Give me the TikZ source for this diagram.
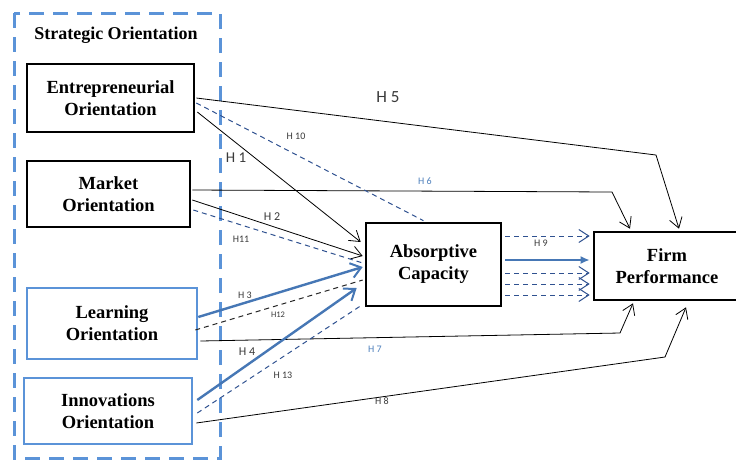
\documentclass[tikz,border=0pt]{standalone}
\usepackage{fontspec}
\setmainfont{Liberation Serif}
\newfontfamily\labfont{Carlito}
\usetikzlibrary{arrows.meta}
\definecolor{framblue}{HTML}{5B93D8}
\definecolor{arrblue}{HTML}{4677B5}
\definecolor{dashblue}{HTML}{2F5190}
\definecolor{labblue}{HTML}{4F81BD}
\definecolor{labdark}{HTML}{3A3A3A}
\tikzset{
  blackbox/.style={draw=black, line width=2.6pt, inner sep=0pt, align=center,
    font=\fontsize{18.5}{22}\selectfont\bfseries},
  bluebox/.style={blackbox, draw=framblue},
  thinline/.style={draw=black, line width=0.8pt},
  thinarrow/.style={thinline, -{Straight Barb[length=10pt,width=13pt,line width=0.8pt]}},
  dashline/.style={draw=dashblue, line width=1pt, dash pattern=on 5pt off 4pt},
  dasharrow/.style={dashline, -{Straight Barb[length=10pt,width=13pt,line width=1pt]}},
  blkdash/.style={draw=black!85, line width=1pt, dash pattern=on 5pt off 4pt},
  thickarrow/.style={draw=arrblue, line width=2.4pt, -{Straight Barb[length=10pt,width=15pt,line width=2pt]}},
  hlab/.style={font=\labfont\fontsize{10}{12}\selectfont, text=labdark, inner sep=0pt},
}
\begin{document}
\begin{tikzpicture}[x=1pt,y=-1pt]
\clip (0,0) rectangle (736,459);
\fill[white] (0,0) rectangle (736,459);
% frame
\draw[draw=framblue, line width=3pt, dash pattern=on 15pt off 9pt] (14,13) rectangle (220,458);
\node[font=\fontsize{18}{21}\selectfont\bfseries] (so) at (116,35) {Strategic Orientation};
% boxes
\node[blackbox, minimum width=167pt, minimum height=68pt] (eo) at (110.5,98) {Entrepreneurial\\Orientation};
\node[blackbox, minimum width=163pt, minimum height=66pt] (mo) at (108.5,194) {Market\\Orientation};
\node[bluebox, minimum width=170pt, minimum height=71pt] (lo) at (112,323.5) {Learning\\Orientation};
\node[bluebox, minimum width=168pt, minimum height=66pt] (io) at (108,411) {Innovations\\Orientation};
\node[blackbox, minimum width=135pt, minimum height=83pt] (ac) at (433.5,264.5) {Absorptive\\Capacity};
\node[blackbox, minimum width=146pt, minimum height=68pt] (fp) at (667,266) {Firm\\Performance};
% bend points
\coordinate (c5) at (656,155);
\coordinate (c6) at (612,192);
\coordinate (c7) at (620,333);
\coordinate (c8) at (665,357);
% H5, H6, H7, H8
\draw[thinarrow] ([xshift=1pt]eo.east) -- (c5) -- ([xshift=12pt,yshift=2pt]fp.north);
\draw[thinarrow] ([xshift=1pt,yshift=4pt]mo.east) -- (c6) -- ([xshift=-37pt,yshift=2pt]fp.north);
\draw[thinarrow] ([xshift=2pt,yshift=-17.5pt]lo.east) -- (c7) -- ([xshift=-34pt,yshift=-2pt]fp.south);
\draw[thinarrow] ([xshift=3pt,yshift=-12pt]io.east) -- (c8) -- ([xshift=19pt,yshift=-6pt]fp.south);
% H1, H2
\draw[thinarrow] ([xshift=2pt,yshift=-14pt]eo.east) -- ([xshift=-4pt,yshift=22.5pt]ac.west);
\draw[thinarrow] ([xshift=1pt,yshift=-6pt]mo.east) -- ([xshift=-2pt,yshift=8.5pt]ac.west);
% H10, H11
\draw[dashline] ([xshift=1pt,yshift=-5pt]eo.east) -- ([xshift=-10pt,yshift=1pt]ac.north);
\draw[dashline] ([xshift=2pt,yshift=-16pt]mo.east) -- ([xshift=-2pt,yshift=1.5pt]ac.west);
% H3, H4
\draw[thickarrow] ([xshift=0pt,yshift=6.5pt]lo.east) -- ([xshift=-2pt,yshift=-2.5pt]ac.west);
\draw[thickarrow] ([xshift=4pt,yshift=11pt]io.east) -- ([xshift=-8pt,yshift=-23.5pt]ac.west);
% H12, H13
\draw[blkdash] ([xshift=-3pt,yshift=-6.5pt]lo.east) -- ([xshift=-2pt,yshift=-15.5pt]ac.west);
\draw[dashline] ([xshift=4pt,yshift=-2pt]io.east) -- ([xshift=-2pt,yshift=-40pt]ac.west);
% H9 group
\draw[dasharrow] ([xshift=3pt,yshift=28.5pt]ac.east) -- ([xshift=-3pt,yshift=30pt]fp.west);
\draw[draw=arrblue, line width=2.2pt, -{Latex[length=9pt,width=8pt]}] ([xshift=3pt,yshift=4.5pt]ac.east) -- ([xshift=-3pt,yshift=6pt]fp.west);
\draw[dasharrow] ([xshift=3pt,yshift=-8.5pt]ac.east) -- ([xshift=-3pt,yshift=-7pt]fp.west);
\draw[dasharrow] ([xshift=3pt,yshift=-19.5pt]ac.east) -- ([xshift=-3pt,yshift=-18pt]fp.west);
\draw[dasharrow] ([xshift=3pt,yshift=-30.5pt]ac.east) -- ([xshift=-3pt,yshift=-29pt]fp.west);
% labels
\node[hlab, font=\labfont\fontsize{17}{19}\selectfont] (l5) at (388,97) {H 5};
\node[hlab] (l10) at (296,136) {H 10};
\node[hlab, font=\labfont\fontsize{15}{17}\selectfont] (l1) at (236,158) {H 1};
\node[hlab, text=labblue] (l6) at (425,181) {H 6};
\node[hlab, font=\labfont\fontsize{12}{14}\selectfont] (l2) at (272,217) {H 2};
\node[hlab] (l11) at (241,239) {H11};
\node[hlab] (l3) at (245,295) {H 3};
\node[hlab, font=\labfont\fontsize{8.5}{10}\selectfont] (l12) at (278,315) {H12};
\node[hlab, font=\labfont\fontsize{12}{14}\selectfont] (l4) at (247,352) {H 4};
\node[hlab, text=labblue] (l7) at (375,349) {H 7};
\node[hlab] (l13) at (283,375) {H 13};
\node[hlab] (l8) at (382,401) {H 8};
\node[hlab] (l9) at (541,243) {H 9};
\end{tikzpicture}
\end{document}
